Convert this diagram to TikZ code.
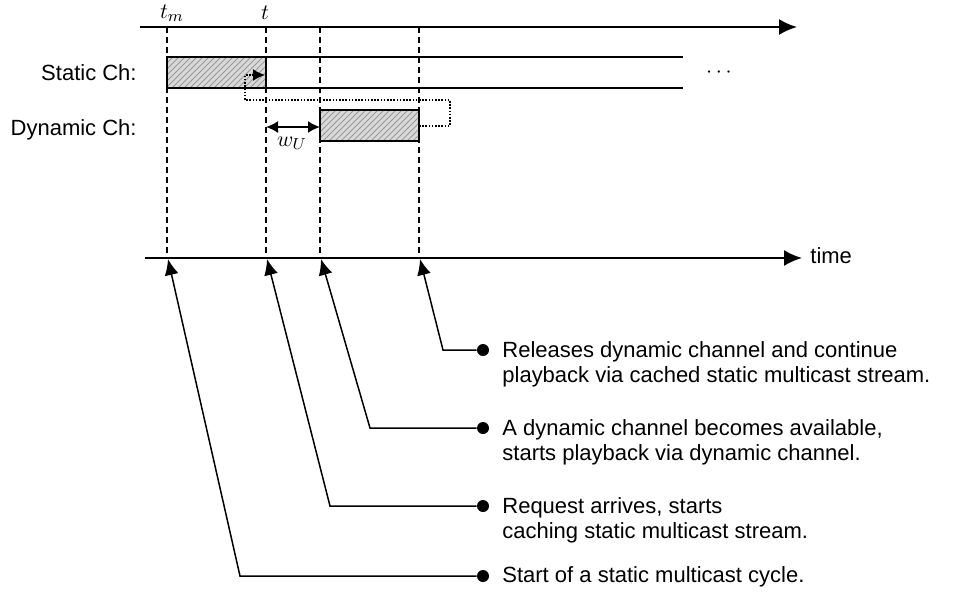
\documentclass[tikz,border=0pt]{standalone}
\usepackage{fontspec}
\setsansfont{Liberation Sans}
\usetikzlibrary{arrows.meta}
\usetikzlibrary{patterns}
\tikzset{axis/.style={line width=1pt,-{Latex[length=9pt,width=8pt]}},
         chan/.style={line width=0.9pt},
  tickline/.style={line width=1pt,dash pattern=on 3pt off 2pt},
  busy/.style={draw,line width=1pt,preaction={fill=gray!30},pattern=north east lines,pattern color=gray!80},
  cache/.style={line width=0.9pt,dash pattern=on 0.8pt off 0.8pt,-{Latex[length=6pt,width=6pt]}},
  dot/.style={circle,fill=black,inner sep=0pt,minimum size=6pt},
  txt/.style={font=\sffamily\fontsize{11}{12.6}\selectfont,inner sep=0pt},
  note/.style={txt,anchor=west,align=left},
  callout/.style={line width=0.75pt,{Latex[length=8pt,width=7pt]}-}
         }

\begin{document}
\begin{tikzpicture}[x=0.5pt,y=-0.5pt]
        \useasboundingbox (0,0) rectangle (966,596);
        % time points
        \coordinate (Tm) at (167,27);
        \coordinate (T) at (266,27);
        \coordinate (Ta) at (320,27);
        \coordinate (Tr) at (419,27);
        \coordinate (Bm) at (167,258);
        \coordinate (B) at (266,258);
        \coordinate (Ba) at (320,258);
        \coordinate (Br) at (419,258);
        \coordinate (TopL) at (140,27);
        \coordinate (TopR) at (797,27);
        \coordinate (AxL) at (145,258);
        \coordinate (AxR) at (802,258);

        \node[txt] (tm) at (172,13) {$t_m$};
        \node[txt] (t) at (265,13) {$t$};
        \node[txt,anchor=east] (st) at (137,73) {Static Ch:};
        \node[txt,anchor=east] (dy) at (137,130) {Dynamic Ch:};
        \node[txt,anchor=west] (time) at (810,256) {time};
        \node[txt] (dots) at (719,73) {$\cdots$};

        \draw[axis] (TopL) -- (TopR);
        \draw[axis] (AxL) -- (AxR);
        \foreach \a/\b in {Tm/Bm,T/B,Ta/Ba,Tr/Br}
            \draw[tickline] (\a) -- (\b);

        % channels
        \path[busy] (167,57) rectangle (266,88);
        \draw[chan] (167,57) -- (683,57);
        \draw[chan] (167,88) -- (683,88);
        \path[busy] (320,110) rectangle (419,141);
        \draw[cache] (419,126) -- (450,126) -- (450,100) -- (245,100) -- (245,75) -- (265,75);
        \draw[line width=0.9pt,{Latex[length=6pt,width=6pt]}-{Latex[length=6pt,width=6pt]}] (266,127) -- (320,127);
        \node[txt] (wu) at (292,143) {$w_U$};

        % callouts
        \node[dot] (d1) at (483,350) {};
        \node[dot] (d2) at (483,428) {};
        \node[dot] (d3) at (483,506) {};
        \node[dot] (d4) at (483,576) {};
        \coordinate (k1) at (443,350);
        \coordinate (k2) at (370,428);
        \coordinate (k3) at (330,506);
        \coordinate (k4) at (240,576);
        \coordinate (p1) at (420,259);
        \coordinate (p2) at (321,259);
        \coordinate (p3) at (267,259);
        \coordinate (p4) at (168,259);
        \foreach \i in {1,...,4}
            \draw[callout] (p\i) -- (k\i) -- (d\i);

        \node[note] (n1) at (502,364) {Releases dynamic channel and continue\\playback via cached static multicast stream.};
        \node[note] (n2) at (502,442) {A dynamic channel becomes available,\\starts playback via dynamic channel.};
        \node[note] (n3) at (502,520) {Request arrives, starts\\caching static multicast stream.};
        \node[note] (n4) at (502,577) {Start of a static multicast cycle.};
\end{tikzpicture}
\end{document}
